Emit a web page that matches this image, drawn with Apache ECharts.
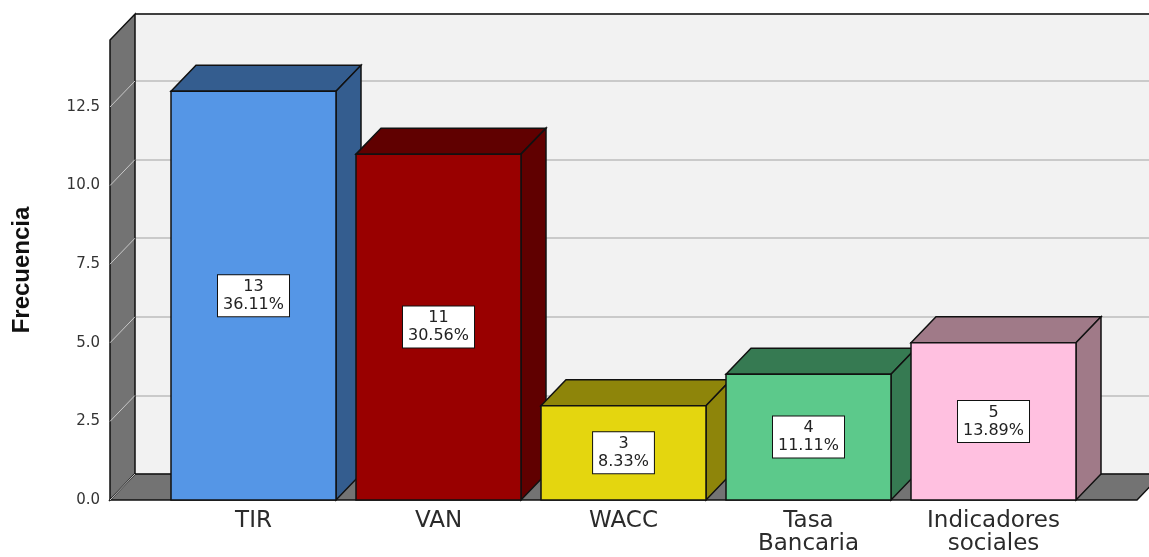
<!DOCTYPE html>
<html>
<head>
<meta charset="utf-8">
<script src="https://cdn.jsdelivr.net/npm/echarts@6/dist/echarts.min.js"></script>
<style>
  html, body { margin: 0; padding: 0; background: #fff; }
  #chart { width: 1149px; height: 557px; }
</style>
</head>
<body>
<div id="chart"></div>
<script>
// valores
const categories = ["TIR", "VAN", "WACC", "Tasa\nBancaria", "Indicadores\nsociales"];
const counts = [13, 11, 3, 4, 5];
const percents = ["36.11%", "30.56%", "8.33%", "11.11%", "13.89%"];
const yTicks = [0, 2.5, 5, 7.5, 10, 12.5];
const yMax = 14.63;

// colores (cara frontal / caras superior y lateral)
const frontColors = ["#5596e6", "#990000", "#e4d60f", "#5cc98b", "#ffc0e0"];
const shadeColors = ["#345d8f", "#600000", "#8e850a", "#367a52", "#a07a88"];

const DX = 25;   // profundidad 3D
const DY = -26;
const BAR_RATIO = 165 / 185;

const chart = echarts.init(document.getElementById("chart"));

function shift(p) {
  return [p[0] + DX, p[1] + DY];
}

// paredes izquierda y suelo
function renderFrame(params, api) {
  const fl0 = api.coord([0, 0]);
  const flT = api.coord([0, yMax]);
  const fr0 = api.coord([1, 0]);
  const frT = api.coord([1, yMax]);
  const children = [];
  children.push({
    type: "polygon",
    shape: { points: [fl0, flT, shift(flT), shift(fl0)] },
    style: { fill: "#737373", stroke: "#111", lineWidth: 1.5 },
  });
  children.push({
    type: "polygon",
    shape: { points: [fl0, fr0, shift(fr0), shift(fl0)] },
    style: { fill: "#737373", stroke: "#111", lineWidth: 1.5 },
  });
  yTicks.forEach((t) => {
    const p = api.coord([0, t]);
    children.push({
      type: "line",
      shape: { x1: p[0], y1: p[1], x2: p[0] + DX, y2: p[1] + DY },
      style: { stroke: "#c8c8c8", lineWidth: 1 },
    });
  });
  // borde superior de la pared del fondo
  const a = shift(flT);
  const b = shift(frT);
  children.push({
    type: "line",
    shape: { x1: a[0], y1: a[1], x2: b[0] + 40, y2: b[1] },
    style: { stroke: "#111", lineWidth: 1.5 },
  });
  return { type: "group", children: children };
}

function renderBar(params, api) {
  const i = api.value(0);
  const v = api.value(1);
  const base = api.coord([i, 0]);
  const top = api.coord([i, v]);
  const w = api.size([1, 0])[0] * BAR_RATIO;
  const l = base[0] - w / 2;
  const r = base[0] + w / 2;
  const tl = [l, top[1]];
  const tr = [r, top[1]];
  const br = [r, base[1]];
  const edge = { stroke: "#111", lineWidth: 1.5 };
  return {
    type: "group",
    children: [
      {
        type: "polygon",
        shape: { points: [tl, shift(tl), shift(tr), tr] },
        style: Object.assign({ fill: shadeColors[i] }, edge),
      },
      {
        type: "polygon",
        shape: { points: [tr, shift(tr), shift(br), br] },
        style: Object.assign({ fill: shadeColors[i] }, edge),
      },
      {
        type: "rect",
        shape: { x: l, y: top[1], width: w, height: base[1] - top[1] },
        style: Object.assign({ fill: frontColors[i] }, edge),
      },
      {
        type: "text",
        x: base[0],
        y: (base[1] + top[1]) / 2,
        style: {
          text: counts[i] + "\n" + percents[i],
          align: "center",
          verticalAlign: "middle",
          font: "16px 'DejaVu Sans', Arial, sans-serif",
          lineHeight: 18,
          fill: "#222",
          backgroundColor: "#fff",
          borderColor: "#111",
          borderWidth: 1,
          padding: [3, 5, 2, 5],
        },
      },
    ],
  };
}

const option = {
  animation: false,
  backgroundColor: "#fff",
  grid: [
    { left: 110, right: 12, top: 40, bottom: 57, outerBoundsMode: "none" },
    { left: 161, right: 63, top: 40, bottom: 57, outerBoundsMode: "none" },
    {
      left: 135, right: 0, top: 14, bottom: 83, outerBoundsMode: "none",
      show: true, backgroundColor: "#f2f2f2", borderWidth: 0,
    },
  ],
  xAxis: [
    { gridIndex: 0, type: "value", min: 0, max: 1, show: false },
    {
      gridIndex: 1,
      type: "category",
      data: categories,
      axisLine: { show: false },
      axisTick: { show: false },
      axisLabel: {
        margin: 10,
        fontSize: 23,
        lineHeight: 23,
        color: "#2b2b2b",
        fontFamily: "'DejaVu Sans', Arial, sans-serif",
      },
    },
    { gridIndex: 2, type: "value", min: 0, max: 1, show: false },
  ],
  yAxis: [
    {
      gridIndex: 0,
      type: "value",
      min: 0,
      max: yMax,
      interval: 2.5,
      name: "Frecuencia",
      nameLocation: "middle",
      nameRotate: 90,
      nameGap: 76,
      nameTextStyle: {
        fontSize: 24,
        fontWeight: "bold",
        color: "#111",
        fontFamily: "'Liberation Sans Narrow', 'Liberation Sans', Arial, sans-serif",
      },
      axisLine: { show: false },
      axisTick: { show: false },
      splitLine: { show: false },
      axisLabel: {
        margin: 10,
        fontSize: 15,
        color: "#333",
        fontFamily: "'DejaVu Sans', Arial, sans-serif",
        formatter: (v) => (yTicks.indexOf(v) >= 0 ? v.toFixed(1) : ""),
      },
    },
    { gridIndex: 1, type: "value", min: 0, max: yMax, show: false },
    {
      gridIndex: 2,
      type: "value",
      min: 0,
      max: yMax,
      interval: 2.5,
      axisLine: { show: false },
      axisTick: { show: false },
      axisLabel: { show: false },
      splitLine: { show: true, lineStyle: { color: "#bdbdbd", width: 1.5 } },
    },
  ],
  series: [
    {
      type: "custom",
      name: "marco",
      xAxisIndex: 0,
      yAxisIndex: 0,
      renderItem: renderFrame,
      data: [[0, 0]],
      silent: true,
      z: 1,
    },
    {
      type: "custom",
      name: "Frecuencia",
      xAxisIndex: 1,
      yAxisIndex: 1,
      renderItem: renderBar,
      data: counts.map((v, i) => [i, v]),
      z: 3,
    },
  ],
};

chart.setOption(option);
</script>
</body>
</html>
